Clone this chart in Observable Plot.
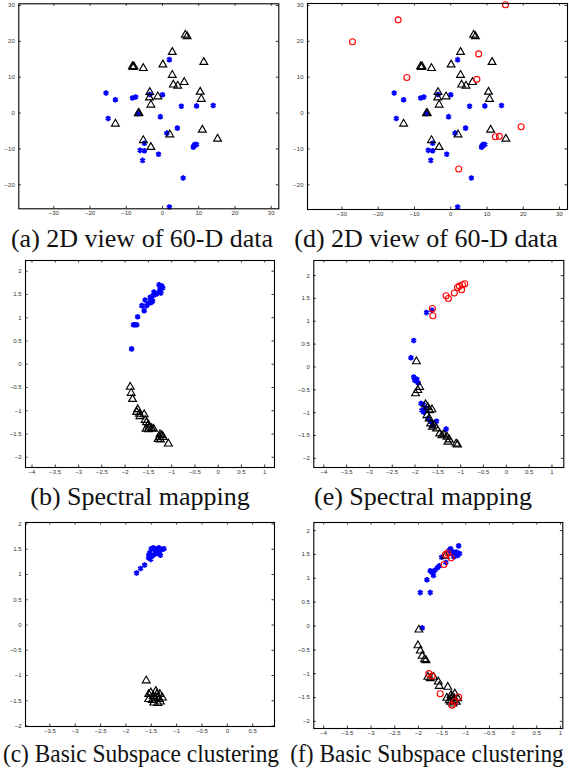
<!DOCTYPE html>
<html><head><meta charset="utf-8">
<script src="https://cdn.jsdelivr.net/npm/d3@7"></script>
<script src="https://cdn.jsdelivr.net/npm/@observablehq/plot@0.6"></script>
<style>
body{margin:0;background:#fff;}
#c{position:relative;width:569px;height:778px;overflow:hidden;background:#fff;}
.p{position:absolute;}
.cap{position:absolute;width:360px;text-align:center;font-family:"Liberation Serif","Times New Roman",serif;font-size:26px;line-height:1;color:#111;white-space:nowrap;}
</style></head><body><div id="c"></div><script>
// ---- tick values ----
const ticks60 = [-30,-20,-10,0,10,20,30];
const ticks60y = [-20,-10,0,10,20,30];
const ticksSpecX = [-4,-3.5,-3,-2.5,-2,-1.5,-1,-0.5,0,0.5,1];
const ticksSubX = [-3.5,-3,-2.5,-2,-1.5,-1,-0.5,0,0.5];
const ticksSpecY = [-2,-1.5,-1,-0.5,0,0.5,1,1.5,2];

// ---- captions ----
const captions = ["(a) 2D view of 60-D data","(d) 2D view of 60-D data","(b) Spectral mapping","(e) Spectral mapping","(c) Basic Subspace clustering","(f) Basic Subspace clustering"];

// ---- 60-D data, 2D view (panels a, d) ----
const blue60 = [[-15.6,5.6],[-13.0,3.7],[-15.0,-1.5],[-8.3,4.2],[-7.4,4.5],[-6.7,-0.2],[-3.5,5.2],[0.0,5.1],[-0.6,-1.0],[1.9,14.9],[5.2,1.9],[9.4,2.0],[14.0,2.1],[4.1,-4.2],[1.2,-5.6],[-5.0,-8.4],[-6.2,-10.4],[-5.0,-10.5],[-5.5,-13.2],[-1.1,-11.5],[8.5,-9.5],[8.7,-9.1],[8.9,-8.8],[9.4,-8.8],[5.7,-18.1],[1.9,-26.2]];
const tri60 = [[6.3,21.8],[6.8,21.4],[2.7,17.0],[-8.3,13.0],[-7.9,13.0],[-8.1,12.8],[-5.3,12.5],[0.1,13.5],[11.4,14.2],[2.7,10.6],[6.0,8.6],[3.0,7.9],[4.2,7.6],[-3.5,5.8],[-3.6,4.3],[-1.3,4.6],[-3.2,2.3],[10.4,5.9],[10.7,3.9],[-6.7,-0.1],[-6.5,0.0],[-13.0,-3.0],[-5.3,-7.6],[-3.2,-9.5],[2.0,-6.0],[11.0,-4.7],[15.2,-7.2]];
const red60 = [[-27.1,19.9],[-14.5,26.0],[15.1,30.2],[-12.1,9.9],[7.7,16.5],[7.2,9.4],[19.4,-3.8],[12.3,-6.6],[13.4,-6.5],[2.2,-15.6]];

// ---- (b) spectral mapping, 2 classes ----
const blueB = [[-1.86,0.33],[-1.82,0.85],[-1.79,0.85],[-1.75,0.85],[-1.73,1.02],[-1.64,1.26],[-1.59,1.15],[-1.57,1.38],[-1.54,1.26],[-1.49,1.31],[-1.45,1.40],[-1.43,1.37],[-1.39,1.48],[-1.41,1.36],[-1.38,1.55],[-1.32,1.51],[-1.26,1.56],[-1.27,1.71],[-1.23,1.53],[-1.21,1.68],[-1.19,1.64],[-1.25,1.62],[-1.46,1.44],[-1.43,1.33]];
const triB = [[-1.89,-0.49],[-1.87,-0.62],[-1.84,-0.75],[-1.73,-0.97],[-1.75,-1.03],[-1.69,-1.07],[-1.59,-1.08],[-1.68,-1.12],[-1.57,-1.20],[-1.54,-1.25],[-1.50,-1.30],[-1.48,-1.35],[-1.55,-1.39],[-1.50,-1.40],[-1.43,-1.38],[-1.39,-1.39],[-1.25,-1.51],[-1.21,-1.53],[-1.26,-1.57],[-1.18,-1.57],[-1.24,-1.62],[-1.29,-1.61],[-1.07,-1.71]];

// ---- (c) subspace clustering, 2 classes ----
const blueC = [[-1.79,1.03],[-1.71,1.12],[-1.63,1.19],[-1.55,1.33],[-1.53,1.43],[-1.50,1.51],[-1.45,1.50],[-1.41,1.43],[-1.38,1.51],[-1.33,1.47],[-1.28,1.50],[-1.25,1.51],[-1.48,1.37],[-1.51,1.30],[-1.43,1.40],[-1.37,1.42],[-1.32,1.38],[-1.46,1.53],[-1.39,1.47],[-1.55,1.38],[-1.35,1.53]];
const triC = [[-1.60,-1.10],[-1.55,-1.47],[-1.51,-1.34],[-1.46,-1.41],[-1.41,-1.31],[-1.38,-1.44],[-1.33,-1.37],[-1.28,-1.44],[-1.45,-1.54],[-1.37,-1.55],[-1.32,-1.52],[-1.48,-1.49],[-1.39,-1.37],[-1.34,-1.47],[-1.55,-1.37],[-1.43,-1.46]];

// ---- (e) spectral mapping, 3 classes ----
const redE = [[-1.62,1.28],[-1.61,1.12],[-1.32,1.56],[-1.27,1.50],[-1.14,1.62],[-1.07,1.74],[-1.03,1.77],[-0.98,1.69],[-0.96,1.80],[-0.91,1.82]];
const blueE = [[-1.63,1.24],[-1.75,1.19],[-2.03,0.58],[-2.09,0.20],[-2.03,-0.22],[-2.01,-0.29],[-1.97,-0.31],[-1.93,-0.35],[-1.96,-0.27],[-1.87,-0.80],[-1.82,-0.82],[-1.85,-0.95],[-1.81,-0.99],[-1.77,-0.90],[-1.72,-1.13],[-1.65,-1.20],[-1.61,-1.28],[-1.53,-1.19],[-1.32,-1.36]];
const triE = [[-1.97,0.12],[-1.99,-0.58],[-1.94,-0.51],[-1.90,-0.44],[-1.77,-0.82],[-1.72,-0.88],[-1.68,-0.95],[-1.63,-0.93],[-1.74,-1.06],[-1.69,-1.13],[-1.66,-1.24],[-1.62,-1.31],[-1.58,-1.28],[-1.53,-1.35],[-1.46,-1.46],[-1.41,-1.50],[-1.37,-1.48],[-1.30,-1.53],[-1.25,-1.59],[-1.28,-1.64],[-1.10,-1.68],[-1.07,-1.70]];

// ---- (f) subspace clustering, 3 classes ----
const blueF = [[-1.96,0.70],[-1.75,0.70],[-1.82,0.97],[-1.75,1.16],[-1.71,1.12],[-1.68,1.06],[-1.65,1.17],[-1.60,1.22],[-1.56,1.26],[-1.51,1.44],[-1.42,1.33],[-1.35,1.59],[-1.31,1.52],[-1.27,1.55],[-1.24,1.50],[-1.20,1.55],[-1.17,1.48],[-1.13,1.52],[-1.25,1.45],[-1.32,1.62],[-1.15,1.68],[-1.92,-0.04]];
const redF = [[-1.43,1.50],[-1.38,1.53],[-1.31,1.43],[-1.46,1.29],[-1.78,-1.00],[-1.71,-1.05],[-1.54,-1.42],[-1.15,-1.49],[-1.29,-1.66],[-1.24,-1.59]];
const triF = [[-1.43,1.47],[-1.99,-0.08],[-2.01,-0.41],[-1.96,-0.52],[-1.92,-0.63],[-1.87,-0.70],[-1.84,-0.72],[-1.80,-1.07],[-1.75,-1.10],[-1.68,-1.07],[-1.58,-1.17],[-1.56,-1.26],[-1.38,-1.28],[-1.40,-1.51],[-1.35,-1.56],[-1.29,-1.49],[-1.24,-1.52],[-1.20,-1.59],[-1.17,-1.52],[-1.27,-1.63],[-1.31,-1.45],[-1.23,-1.42],[-1.32,-1.59],[-1.25,-1.56]];

const root = document.getElementById("c");
const fmt = d => d < 0 ? "\u2212" + String(-d) : String(d);

function panel(o){
  const ph = o.h - o.mt - o.mb, pw = o.w - o.ml - o.mr, tl = 2.5;
  const px = d => d[0], py = d => d[1];
  const marks = [
    Plot.tickX(o.xt, {x: d => d, insetTop: ph - tl, stroke: "black", strokeWidth: 0.8}),
    Plot.tickX(o.xt, {x: d => d, insetBottom: ph - tl, stroke: "black", strokeWidth: 0.8}),
    Plot.tickY(o.yt, {y: d => d, insetRight: pw - tl, stroke: "black", strokeWidth: 0.8}),
    Plot.tickY(o.yt, {y: d => d, insetLeft: pw - tl, stroke: "black", strokeWidth: 0.8}),
    Plot.axisX(o.xt, {anchor: "bottom", tickSize: 0, tickPadding: 2, label: null, tickFormat: fmt}),
    Plot.axisY(o.yt, {anchor: "left", tickSize: 0, tickPadding: 4, label: null, tickFormat: fmt}),
    Plot.dot(o.blue || [], {x: px, y: py, symbol: "asterisk", r: 2.6, stroke: "blue", strokeWidth: 2}),
    Plot.dot(o.tri || [], {x: px, y: py, symbol: "triangle", r: 2.9, stroke: "black", strokeWidth: 1.15, fill: "none"}),
    Plot.dot(o.red || [], {x: px, y: py, symbol: "circle", r: 3, stroke: "red", strokeWidth: 1.1, fill: "none"}),
    Plot.frame({stroke: "black", strokeWidth: 1.1})
  ];
  const svg = Plot.plot({
    width: o.w, height: o.h,
    marginLeft: o.ml, marginRight: o.mr, marginTop: o.mt, marginBottom: o.mb,
    x: {domain: o.xd}, y: {domain: o.yd},
    style: {fontFamily: "'Liberation Sans', Arial, sans-serif", fontSize: "6px", color: "#333", background: "transparent", overflow: "visible"},
    marks
  });
  svg.classList.add("p");
  svg.style.left = o.left + "px";
  svg.style.top = o.top + "px";
  root.appendChild(svg);
}

panel({left: 0, top: 0, w: 285, h: 226, ml: 18.3, mr: 6.7, mt: 3.3, mb: 17.7, xd: [-39.66, 32.1], yd: [-26.7, 30.47], xt: ticks60, yt: ticks60y, blue: blue60, tri: tri60});
panel({left: 285, top: 0, w: 284, h: 226, ml: 22, mr: 2, mt: 3, mb: 17, xd: [-39.5, 32.2], yd: [-26.9, 30.56], xt: ticks60, yt: ticks60y, blue: blue60, tri: tri60, red: red60});
panel({left: 0, top: 256, w: 285, h: 226, ml: 25, mr: 11, mt: 4, mb: 15, xd: [-4.14, 1.21], yd: [-2.22, 2.23], xt: ticksSpecX, yt: ticksSpecY, blue: blueB, tri: triB});
panel({left: 285, top: 256, w: 284, h: 226, ml: 28.3, mr: 5.7, mt: 4, mb: 15, xd: [-4.22, 1.26], yd: [-2.2, 2.33], xt: ticksSpecX, yt: ticksSpecY, blue: blueE, tri: triE, red: redE});
panel({left: 0, top: 516, w: 285, h: 226, ml: 25, mr: 11, mt: 6, mb: 16, xd: [-3.98, 0.93], yd: [-2.01, 2.03], xt: ticksSubX, yt: ticksSpecY, blue: blueC, tri: triC});
panel({left: 285, top: 516, w: 284, h: 226, ml: 28.3, mr: 6.7, mt: 6, mb: 14, xd: [-4.21, 1.05], yd: [-2.15, 2.17], xt: ticksSpecX, yt: ticksSpecY, blue: blueF, tri: triF, red: redF});

// caption centre x, top y, horizontal squeeze
const capPos = [[142, 226, 1], [426, 226, 1], [140, 484, 1], [423, 484, 1], [141, 741, 0.9], [427, 741, 0.9]];
captions.forEach((t, i) => {
  const d = document.createElement("div");
  d.className = "cap";
  d.textContent = t;
  d.style.left = (capPos[i][0] - 180) + "px";
  d.style.top = capPos[i][1] + "px";
  d.style.transform = "scaleX(" + capPos[i][2] + ")";
  root.appendChild(d);
});
</script></body></html>
